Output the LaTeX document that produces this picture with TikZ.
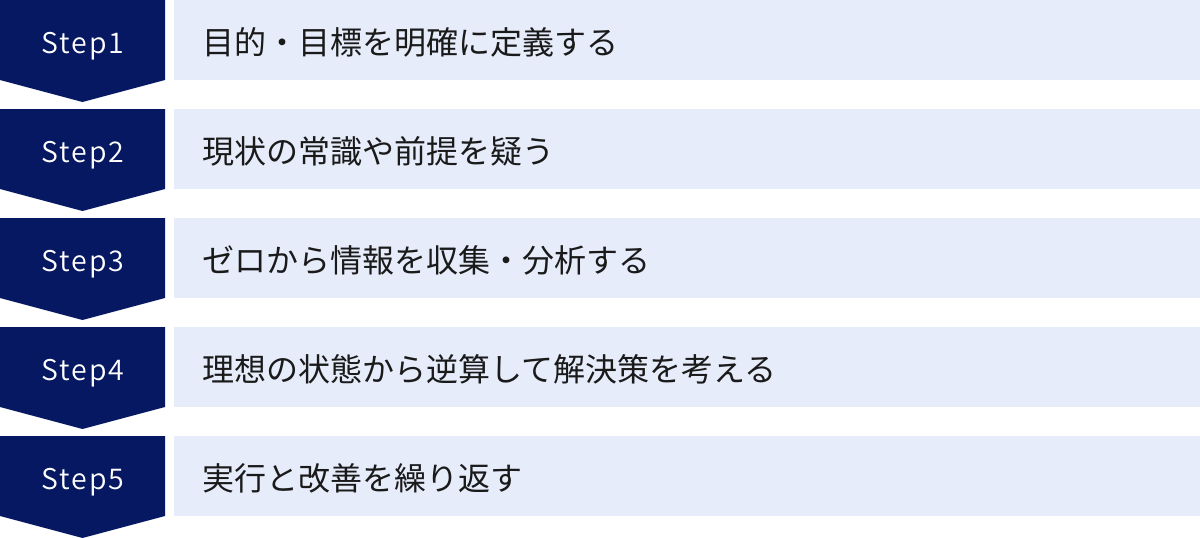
\documentclass[tikz,border=0pt]{standalone}
\usepackage{fontspec}
\setmainfont{Noto Sans CJK JP}
\newfontfamily\stepfont{Noto Sans CJK JP DemiLight}
\definecolor{navy}{HTML}{061862}
\definecolor{pale}{HTML}{E6ECFA}
\definecolor{ink}{HTML}{1A1A1A}
\begin{document}
\begin{tikzpicture}[x=1pt,y=-1pt,
  steplabel/.style={text=white,font=\stepfont\fontsize{28.5}{34}\selectfont\addfontfeatures{LetterSpace=7},inner sep=0pt,anchor=base},
  desc/.style={text=ink,font=\fontsize{32}{38}\selectfont,inner sep=0pt,anchor=west}]
\useasboundingbox (0,0) rectangle (1200,538);
\foreach \i/\t in {1/目的・目標を明確に定義する,2/現状の常識や前提を疑う,3/ゼロから情報を収集・分析する,4/理想の状態から逆算して解決策を考える,5/実行と改善を繰り返す} {
  \pgfmathsetmacro\yy{(\i-1)*109}
  \fill[navy] (0,\yy) -- (165,\yy) -- (165,\yy+80) -- (82.5,\yy+102) -- (0,\yy+80) -- cycle;
  \fill[pale] (174,\yy) rectangle (1200,\yy+80);
  \node[steplabel] (s\i) at (83,\yy+53) {Step\i};
  \node[desc] (d\i) at (202,\yy+42.5) {\t};
}
\end{tikzpicture}
\end{document}
